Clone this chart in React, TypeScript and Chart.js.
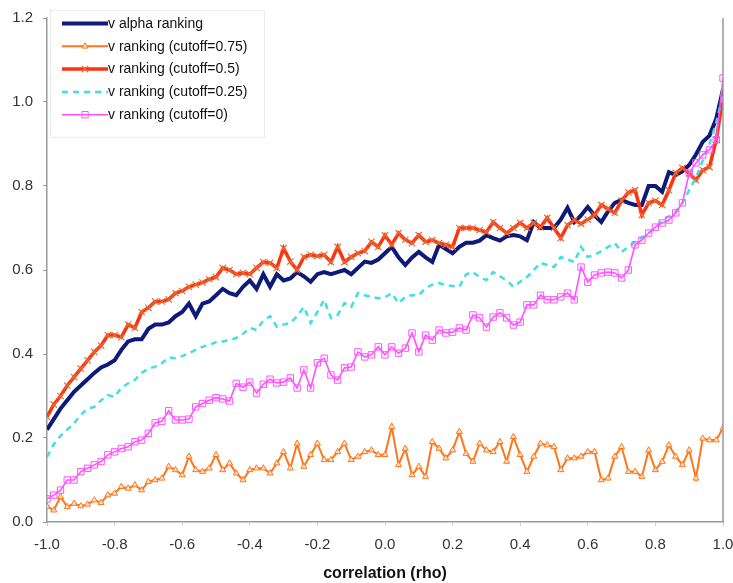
import React, { useEffect, useRef } from 'react';
import { Chart, registerables } from 'chart.js';

Chart.register(...registerables);

// categories: correlation (rho) from -1.0 to 1.0 in steps of 0.02
const rho: number[] = Array.from({ length: 101 }, (_, i) => Math.round((-1 + i * 0.02) * 100) / 100);
const xTickValues = [-1.0, -0.8, -0.6, -0.4, -0.2, 0.0, 0.2, 0.4, 0.6, 0.8, 1.0];
const yTickValues = [0.0, 0.2, 0.4, 0.6, 0.8, 1.0, 1.2];
const xTitle = 'correlation (rho)';

const seriesNames = [
  'v alpha ranking',
  'v ranking (cutoff=0.75)',
  'v ranking (cutoff=0.5)',
  'v ranking (cutoff=0.25)',
  'v ranking (cutoff=0)',
];

const alphaRanking = [
  0.22, 0.245, 0.27, 0.29, 0.31, 0.325, 0.34, 0.355, 0.368, 0.375,
  0.385, 0.41, 0.43, 0.435, 0.435, 0.46, 0.47, 0.47, 0.475, 0.49,
  0.50, 0.52, 0.49, 0.52, 0.525, 0.54, 0.555, 0.545, 0.54, 0.56,
  0.575, 0.555, 0.59, 0.56, 0.59, 0.575, 0.58, 0.595, 0.585, 0.572,
  0.59, 0.595, 0.59, 0.595, 0.60, 0.59, 0.605, 0.62, 0.617, 0.625,
  0.64, 0.655, 0.63, 0.612, 0.63, 0.643, 0.63, 0.619, 0.66, 0.65,
  0.64, 0.655, 0.665, 0.665, 0.67, 0.683, 0.676, 0.67, 0.68, 0.683,
  0.68, 0.671, 0.714, 0.70, 0.70, 0.70, 0.72, 0.748, 0.714, 0.73,
  0.75, 0.73, 0.714, 0.74, 0.76, 0.767, 0.76, 0.755, 0.755, 0.80,
  0.80, 0.786, 0.833, 0.826, 0.835, 0.85, 0.875, 0.905, 0.92, 0.96,
  1.03,
];

const cutoff075 = [
  0.037, 0.028, 0.06, 0.036, 0.044, 0.038, 0.042, 0.052, 0.046, 0.064,
  0.068, 0.084, 0.08, 0.088, 0.076, 0.096, 0.1, 0.104, 0.132, 0.124,
  0.112, 0.156, 0.124, 0.12, 0.128, 0.16, 0.124, 0.14, 0.116, 0.1,
  0.124, 0.128, 0.128, 0.116, 0.14, 0.167, 0.128, 0.187, 0.132, 0.16,
  0.187, 0.148, 0.148, 0.167, 0.187, 0.148, 0.156, 0.167, 0.171, 0.16,
  0.16, 0.227, 0.136, 0.175, 0.112, 0.132, 0.108, 0.191, 0.175, 0.152,
  0.171, 0.215, 0.163, 0.144, 0.187, 0.171, 0.167, 0.191, 0.144, 0.203,
  0.16, 0.12, 0.156, 0.187, 0.183, 0.179, 0.124, 0.152, 0.152, 0.156,
  0.167, 0.167, 0.1, 0.104, 0.156, 0.179, 0.12, 0.12, 0.108, 0.171,
  0.124, 0.144, 0.183, 0.156, 0.136, 0.171, 0.104, 0.199, 0.195, 0.195,
  0.223,
];

const cutoff05 = [
  0.25, 0.28, 0.30, 0.325, 0.345, 0.365, 0.385, 0.405, 0.42, 0.445,
  0.445, 0.44, 0.47, 0.462, 0.50, 0.51, 0.525, 0.525, 0.53, 0.545,
  0.55, 0.56, 0.565, 0.57, 0.578, 0.583, 0.605, 0.60, 0.59, 0.593,
  0.59, 0.605, 0.619, 0.617, 0.605, 0.652, 0.62, 0.60, 0.631, 0.636,
  0.633, 0.636, 0.619, 0.655, 0.619, 0.631, 0.64, 0.645, 0.667, 0.655,
  0.683, 0.66, 0.688, 0.672, 0.664, 0.683, 0.667, 0.671, 0.664, 0.66,
  0.655, 0.70, 0.70, 0.70, 0.695, 0.69, 0.714, 0.70, 0.688, 0.70,
  0.712, 0.70, 0.712, 0.702, 0.724, 0.70, 0.676, 0.707, 0.719, 0.71,
  0.72, 0.731, 0.755, 0.745, 0.736, 0.765, 0.785, 0.79, 0.731, 0.76,
  0.765, 0.755, 0.79, 0.831, 0.843, 0.83, 0.814, 0.838, 0.845, 0.91,
  1.01,
];

const cutoff025 = [
  0.155, 0.185, 0.205, 0.22, 0.235, 0.255, 0.27, 0.274, 0.29, 0.302,
  0.298, 0.32, 0.33, 0.338, 0.355, 0.365, 0.37, 0.378, 0.392, 0.39,
  0.395, 0.402, 0.41, 0.417, 0.422, 0.428, 0.43, 0.433, 0.438, 0.448,
  0.462, 0.457, 0.48, 0.49, 0.465, 0.47, 0.474, 0.49, 0.512, 0.474,
  0.50, 0.529, 0.486, 0.493, 0.521, 0.512, 0.545, 0.54, 0.536, 0.533,
  0.535, 0.545, 0.521, 0.536, 0.54, 0.54, 0.557, 0.565, 0.569, 0.564,
  0.562, 0.56, 0.59, 0.595, 0.583, 0.576, 0.595, 0.585, 0.575, 0.56,
  0.572, 0.583, 0.60, 0.617, 0.612, 0.607, 0.631, 0.625, 0.619, 0.655,
  0.631, 0.636, 0.645, 0.655, 0.664, 0.643, 0.655, 0.667, 0.677, 0.688,
  0.70, 0.719, 0.728, 0.738, 0.76, 0.79, 0.82, 0.86, 0.90, 0.95,
  1.02,
];

const cutoff0 = [
  0.055, 0.064, 0.076, 0.1, 0.1, 0.12, 0.128, 0.136, 0.144, 0.16,
  0.167, 0.175, 0.179, 0.191, 0.195, 0.211, 0.236, 0.24, 0.265, 0.243,
  0.243, 0.245, 0.274, 0.282, 0.29, 0.296, 0.293, 0.288, 0.33, 0.321,
  0.333, 0.307, 0.328, 0.34, 0.331, 0.333, 0.343, 0.319, 0.362, 0.319,
  0.379, 0.39, 0.35, 0.338, 0.367, 0.369, 0.405, 0.393, 0.398, 0.417,
  0.398, 0.417, 0.402, 0.414, 0.45, 0.405, 0.445, 0.433, 0.457, 0.45,
  0.452, 0.462, 0.457, 0.493, 0.486, 0.464, 0.488, 0.498, 0.486, 0.469,
  0.476, 0.517, 0.517, 0.54, 0.529, 0.529, 0.536, 0.545, 0.529, 0.607,
  0.571, 0.588, 0.593, 0.595, 0.593, 0.581, 0.60, 0.66, 0.671, 0.688,
  0.702, 0.712, 0.719, 0.736, 0.76, 0.831, 0.855, 0.874, 0.886, 0.91,
  1.057,
];

const FONT = '"Liberation Sans", Arial, Helvetica, sans-serif';
const AXIS_COLOR = '#9a9a9a';

type Style = {
  color: string;
  width: number;
  dash?: number[];
  marker?: 'triangle' | 'crossRot' | 'rect';
  markerColor?: string;
  markerFill?: string;
  markerRadius?: number;
};

const styles: Style[] = [
  { color: '#0d1a78', width: 4 },
  { color: '#ff7518', width: 2, marker: 'triangle', markerColor: '#ff7518', markerFill: 'rgba(255,235,215,0.9)', markerRadius: 3.5 },
  { color: '#ff3210', width: 3.5, marker: 'crossRot', markerColor: '#e07035', markerRadius: 4.5 },
  { color: '#40e0e0', width: 2.5, dash: [6, 5] },
  { color: '#ff52ff', width: 1.6, marker: 'rect', markerColor: '#ff52ff', markerFill: 'rgba(255,255,255,0)', markerRadius: 4.5 },
];

function drawMarker(ctx: CanvasRenderingContext2D, s: Style, x: number, y: number) {
  if (!s.marker) return;
  const r = s.markerRadius || 4;
  ctx.save();
  ctx.setLineDash([]);
  ctx.strokeStyle = s.markerColor || s.color;
  ctx.fillStyle = s.markerFill || 'transparent';
  ctx.lineWidth = 1;
  ctx.beginPath();
  if (s.marker === 'triangle') {
    ctx.moveTo(x, y - r);
    ctx.lineTo(x - r * 0.866, y + r / 2);
    ctx.lineTo(x + r * 0.866, y + r / 2);
    ctx.closePath();
    ctx.fill();
    ctx.stroke();
  } else if (s.marker === 'crossRot') {
    const d = r * 0.7071;
    ctx.moveTo(x - d, y - d);
    ctx.lineTo(x + d, y + d);
    ctx.moveTo(x + d, y - d);
    ctx.lineTo(x - d, y + d);
    ctx.lineWidth = 1.2;
    ctx.stroke();
  } else if (s.marker === 'rect') {
    const h = r * 0.7071;
    ctx.rect(x - h, y - h, 2 * h, 2 * h);
    ctx.stroke();
  }
  ctx.restore();
}

const framePlugin = {
  id: 'frameAndLegend',
  afterDraw(chart: any) {
    const ctx: CanvasRenderingContext2D = chart.ctx;
    const { right, top, bottom } = chart.chartArea;
    ctx.save();
    // right border of plot area
    ctx.strokeStyle = AXIS_COLOR;
    ctx.lineWidth = 1.5;
    ctx.beginPath();
    ctx.moveTo(right, top);
    ctx.lineTo(right, bottom);
    ctx.stroke();

    // legend box
    const bx = 50.5, by = 10.5, bw = 214, bh = 127;
    ctx.fillStyle = 'rgba(255,255,255,1)';
    ctx.fillRect(bx, by, bw, bh);
    ctx.strokeStyle = '#ececec';
    ctx.lineWidth = 1;
    ctx.strokeRect(bx, by, bw, bh);

    ctx.font = `14px ${FONT}`;
    ctx.textBaseline = 'middle';
    ctx.textAlign = 'left';
    seriesNames.forEach((name, i) => {
      const s = styles[i];
      const y = 23.5 + i * 22.8;
      ctx.save();
      ctx.strokeStyle = s.color;
      ctx.lineWidth = s.width;
      ctx.setLineDash(s.dash || []);
      ctx.beginPath();
      ctx.moveTo(62, y);
      ctx.lineTo(108, y);
      ctx.stroke();
      ctx.restore();
      drawMarker(ctx, s, 85, y);
      ctx.fillStyle = '#111';
      ctx.fillText(name, 108, y + 0.5);
    });
    ctx.restore();
  },
};

export default function App() {
  const ref = useRef<HTMLCanvasElement>(null);

  useEffect(() => {
    const canvas = ref.current;
    if (!canvas) return;
    const seriesValues = [alphaRanking, cutoff075, cutoff05, cutoff025, cutoff0];
    const datasets = seriesValues.map((vals, i) => {
      const s = styles[i];
      return {
        label: seriesNames[i],
        data: vals.map((v, k) => ({ x: rho[k], y: v })),
        borderColor: s.color,
        borderWidth: s.width,
        borderDash: s.dash || [],
        fill: false,
        tension: 0,
        pointStyle: s.marker || 'circle',
        pointRadius: s.marker ? s.markerRadius : 0,
        pointBorderColor: s.markerColor || s.color,
        pointBackgroundColor: s.markerFill || s.color,
        pointBorderWidth: s.marker === 'crossRot' ? 1.2 : 1,
        order: 5 - i,
      };
    });

    const chart = new Chart(canvas, {
      type: 'line',
      data: { datasets },
      plugins: [framePlugin],
      options: {
        responsive: false,
        devicePixelRatio: 1,
        animation: false,
        events: [],
        layout: { padding: { left: 0, top: 18, right: 10, bottom: 0 } },
        plugins: {
          legend: { display: false },
          tooltip: { enabled: false },
        },
        scales: {
          x: {
            type: 'linear',
            min: -1,
            max: 1,
            afterBuildTicks: (scale: any) => {
              scale.ticks = xTickValues.map((v) => ({ value: v }));
            },
            afterFit: (scale: any) => {
              scale.height = 61;
              scale.paddingLeft = 0;
              scale.paddingRight = 0;
            },
            ticks: {
              callback: (v: any) => Number(v).toFixed(1),
              font: { family: FONT, size: 15 },
              color: '#333',
              padding: 10,
              maxRotation: 0,
              autoSkip: false,
            },
            grid: {
              drawOnChartArea: false,
              drawTicks: true,
              tickLength: 4,
              color: '#d0d0d0',
            },
            border: { display: true, color: AXIS_COLOR, width: 1.5 },
            title: {
              display: true,
              text: xTitle,
              font: { family: FONT, size: 16, weight: 'bold' },
              color: '#111',
              padding: { top: 0, bottom: 0 },
            },
          },
          y: {
            type: 'linear',
            min: 0,
            max: 1.2,
            afterBuildTicks: (scale: any) => {
              scale.ticks = yTickValues.map((v) => ({ value: v }));
            },
            afterFit: (scale: any) => {
              scale.width = 47;
              scale.paddingTop = 0;
              scale.paddingBottom = 0;
            },
            ticks: {
              callback: (v: any) => Number(v).toFixed(1),
              font: { family: FONT, size: 15 },
              color: '#333',
              padding: 10,
              autoSkip: false,
            },
            grid: {
              drawOnChartArea: false,
              drawTicks: true,
              tickLength: 4,
              color: AXIS_COLOR,
            },
            border: { display: true, color: AXIS_COLOR, width: 1.5 },
          },
        },
      } as any,
    });
    return () => chart.destroy();
  }, []);

  return (
    <div style={{ position: 'fixed', left: 0, top: 0, width: 733, height: 583, background: '#fff' }}>
      <canvas ref={ref} width={733} height={583} style={{ display: 'block', width: 733, height: 583 }} />
    </div>
  );
}
